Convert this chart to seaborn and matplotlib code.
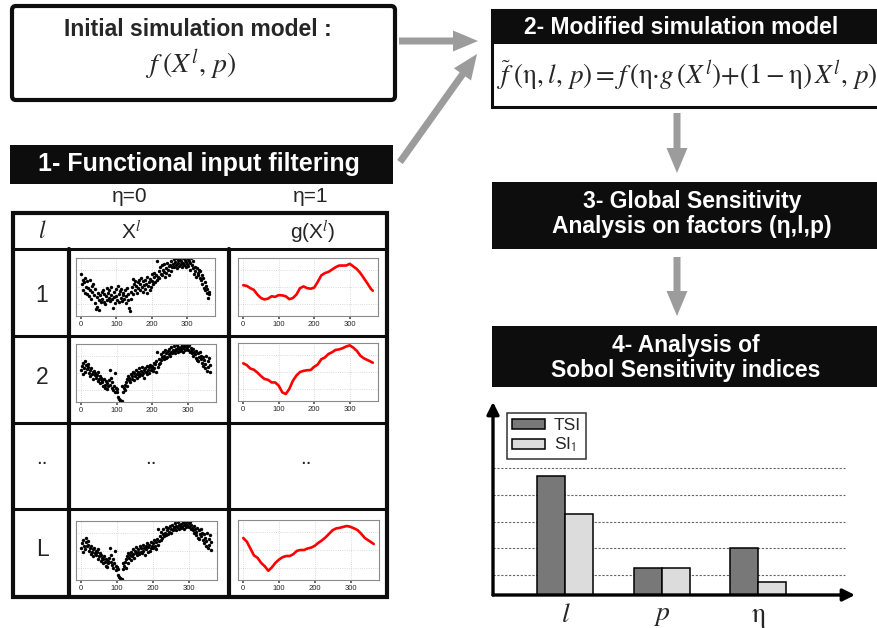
import numpy as np
import pandas as pd
import matplotlib
matplotlib.use("Agg")
import matplotlib.pyplot as plt
from matplotlib import patches
import seaborn as sns

sns.set_theme(style="white")
plt.rcParams["font.family"] = ["Liberation Sans", "DejaVu Sans"]
plt.rcParams["mathtext.fontset"] = "stix"

W, H = 877, 628

# daily input X^l (every second day, 0-100 = panel height)
days = np.arange(0, 365, 2)
x_row1 = [72, 55, 62, 45, 58, 40, 66, 50, 38, 60,
          48, 35, 62, 44, 30, 52, 41, 56, 36, 47,
          22, 12, 33, 15, 40, 28, 11, 36, 25, 42,
          30, 45, 24, 38, 20, 34, 48, 27, 40, 31,
          44, 26, 37, 50, 29, 13, 41, 33, 22, 46,
          35, 28, 52, 38, 24, 43, 31, 47, 26, 36,
          40, 30, 45, 22, 34, 48, 28, 38, 14, 9,
          30, 42, 50, 38, 63, 55, 45, 60, 52, 40,
          58, 48, 62, 44, 55, 66, 50, 42, 60, 53,
          47, 62, 55, 40, 68, 52, 58, 45, 64, 50,
          60, 72, 55, 67, 75, 58, 70, 62, 95, 68,
          78, 65, 84, 72, 88, 70, 80, 76, 90, 68,
          82, 74, 92, 79, 86, 70, 88, 95, 77, 84,
          90, 99, 85, 93, 88, 100, 82, 96, 91, 87,
          97, 89, 94, 85, 100, 92, 88, 96, 84, 93,
          90, 98, 86, 94, 80, 92, 100, 88, 83, 95,
          72, 85, 78, 68, 82, 75, 70, 80, 66, 77,
          62, 70, 55, 65, 48, 58, 44, 52, 40, 47,
          31, 38, 42]
x_row2 = [55, 62, 48, 68, 58, 52, 71, 64, 57, 66,
          60, 50, 55, 44, 58, 48, 52, 40, 54, 46,
          50, 42, 47, 36, 52, 40, 45, 33, 42, 38,
          35, 28, 40, 30, 24, 36, 22, 32, 28, 38,
          55, 30, 42, 25, 35, 20, 28, 50, 17, 24,
          22, 18, 8, 5, 3, 0, 2, 1, 28, 18,
          24, 30, 20, 35, 40, 28, 45, 38, 42, 34,
          48, 40, 44, 52, 38, 50, 45, 56, 42, 48,
          52, 44, 58, 48, 54, 46, 60, 50, 55, 42,
          58, 52, 62, 48, 56, 60, 50, 64, 55, 58,
          62, 54, 68, 58, 65, 52, 70, 87, 60, 66,
          75, 68, 82, 72, 78, 86, 74, 80, 90, 76,
          84, 78, 88, 82, 92, 80, 86, 94, 84, 90,
          88, 96, 85, 92, 90, 98, 86, 94, 91, 88,
          95, 90, 99, 87, 93, 97, 89, 95, 100, 92,
          96, 90, 98, 86, 93, 88, 84, 92, 80, 86,
          82, 76, 88, 72, 84, 70, 78, 86, 74, 80,
          68, 78, 62, 72, 58, 66, 80, 54, 70, 60,
          76, 51, 64]
x_rowL = x_row2

# filtered inputs g(X^l)
g_days = [0, 10, 20, 30, 40, 50, 60, 70, 80, 90, 100, 110, 120, 130, 140, 150, 160, 170, 180,
          190, 200, 210, 220, 230, 240, 250, 260, 270, 280, 290, 300, 310, 320, 330, 340, 350, 360, 365]
g_row1 = [53, 52, 48, 45, 37, 31, 28.5, 30, 34, 33, 36, 35.5, 34, 29, 31, 37, 48, 51, 48,
          47, 49, 59, 70, 74, 76, 80, 84, 87, 87, 87, 90, 85.5, 81, 74, 65, 56, 46.5, 43.6]
g_row2 = [65, 62, 56, 54, 49, 43, 38, 36.5, 32, 32, 26.5, 15, 12, 21, 35, 44, 50, 52, 53,
          53.5, 59, 63, 72, 75, 81, 84, 88, 89, 91, 94, 96, 92, 86.5, 78, 73.5, 70.6, 67.6, 66]
g_rowL = [70, 64, 52.6, 41, 37, 28.6, 23, 15.4, 21, 28.6, 34, 38, 40, 40, 43, 48.6, 50, 50, 52.6,
          54, 57, 62, 66, 71, 77, 83, 86, 87, 88.6, 90, 88.6, 86, 83, 77, 70, 66, 62, 60]

# Sobol indices (in grid units)
factors = ["l", "p", "eta"]
factor_labels = ["$l$", "$p$", "η"]
tsi = [4.45, 1.0, 1.75]
si1 = [3.05, 1.0, 0.5]
grid_levels = [0.75, 1.75, 2.75, 3.75, 4.75]

fig = plt.figure(figsize=(W / 100, H / 100), dpi=100)


def px_axes(left, top, right, bottom):
    return fig.add_axes([left / W, 1 - bottom / H, (right - left) / W, (bottom - top) / H])


ax0 = fig.add_axes([0, 0, 1, 1])
ax0.set_xlim(0, W)
ax0.set_ylim(H, 0)
ax0.axis("off")

black = "#0d0d0d"
arrow_grey = "#9c9c9c"

# box 1 - initial model
ax0.add_patch(patches.FancyBboxPatch((12, 6), 383, 94, boxstyle="round,pad=0,rounding_size=4",
                                     fc="white", ec=black, lw=3))
ax0.text(198, 30, "Initial simulation model :", ha="center", va="center", fontsize=16.5, fontweight="bold")
ax0.text(191, 65, r"$f\;(X^l,\,p)$", ha="center", va="center", fontsize=20)

# functional filtering header
ax0.add_patch(patches.Rectangle((10, 145), 383, 39, fc=black, ec="none"))
ax0.text(199, 164, "1- Functional input filtering", ha="center", va="center", fontsize=18,
         fontweight="bold", color="white")
ax0.text(130, 197, "η=0", ha="center", va="center", fontsize=15)
ax0.text(311, 197, "η=1", ha="center", va="center", fontsize=15)

# table
ax0.add_patch(patches.Rectangle((13, 213), 374, 384, fill=False, ec=black, lw=3))
for yy in [249, 336, 423, 509]:
    ax0.plot([13, 387], [yy, yy], color=black, lw=2.2)
for xx in [69, 229]:
    ax0.plot([xx, xx], [249, 597], color=black, lw=3)
ax0.text(42, 232, "$l$", ha="center", va="center", fontsize=17)
ax0.text(131, 232, "X$^{l}$", ha="center", va="center", fontsize=15)
ax0.text(313, 232, "g(X$^{l}$)", ha="center", va="center", fontsize=15)
ax0.text(42, 295, "1", ha="center", va="center", fontsize=16.5)
ax0.text(42, 377, "2", ha="center", va="center", fontsize=16.5)
ax0.text(42, 550, "L", ha="center", va="center", fontsize=16.5)
for xx in [42, 151, 306]:
    ax0.text(xx, 458, "..", ha="center", va="center", fontsize=15)

# box 2 - modified model
ax0.add_patch(patches.Rectangle((492, 10), 400, 97, fc="white", ec=black, lw=2.2))
ax0.add_patch(patches.Rectangle((492, 10), 400, 34, fc=black, ec="none"))
ax0.text(681, 28, "2- Modified simulation model", ha="center", va="center", fontsize=16.5,
         fontweight="bold", color="white")
ax0.text(497, 76,
         r"$\widetilde{f}\;(\mathrm{\eta},l,\,p){=}f\,(\mathrm{\eta}{\cdot}g\,(X^l){+}(1-\mathrm{\eta})\,X^l,\,p)$",
         ha="left", va="center", fontsize=19.5)

# box 3 and 4
ax0.add_patch(patches.Rectangle((492, 182), 400, 67, fc=black, ec="none"))
ax0.text(692, 214, "3- Global Sensitivity\nAnalysis on factors (η,l,p)", ha="center", va="center",
         fontsize=16.5, fontweight="bold", color="white", linespacing=1.1)
ax0.add_patch(patches.Rectangle((492, 326), 400, 61, fc=black, ec="none"))
ax0.text(686, 358, "4- Analysis of\nSobol Sensitivity indices", ha="center", va="center",
         fontsize=16.5, fontweight="bold", color="white", linespacing=1.1)

# grey arrows
for (x1, y1, x2, y2) in [(399, 41, 478, 41), (400, 162, 477, 54), (677, 113, 677, 173), (677, 257, 677, 316)]:
    ax0.add_patch(patches.FancyArrow(x1, y1, x2 - x1, y2 - y1, width=7, head_width=21, head_length=25,
                                     length_includes_head=True, color=arrow_grey, lw=0))


def small_panel(box, y, kind):
    ax = px_axes(*box)
    if kind == "points":
        sns.scatterplot(x=days, y=y, ax=ax, color="black", s=6, linewidth=0, legend=False)
    else:
        sns.lineplot(x=g_days, y=y, ax=ax, color="red", linewidth=1.9)
    ax.set_xlim(-14.6, 379.6)
    ax.set_ylim(0, 100)
    ax.set_xticks([0, 100, 200, 300])
    ax.set_yticks([20, 50, 80])
    ax.set_yticklabels([])
    ax.grid(True, linestyle=":", color="#cfcfcf", linewidth=0.6)
    ax.tick_params(axis="x", labelsize=5.5, length=2, pad=1.5, color="#555555", bottom=True)
    ax.tick_params(axis="y", length=0)
    for sp in ax.spines.values():
        sp.set_color("#8a8a8a")
        sp.set_linewidth(0.8)
    ax.set_xlabel("")
    ax.set_ylabel("")
    ax.set_facecolor("white")


small_panel((76, 258, 215, 316), x_row1, "points")
small_panel((238, 258, 378, 316), g_row1, "line")
small_panel((76, 344, 216, 402), x_row2, "points")
small_panel((238, 343, 378, 401), g_row2, "line")
small_panel((76, 521, 217, 580), x_rowL, "points")
small_panel((238, 520, 379, 580), g_rowL, "line")

# Sobol bar chart
colors = {"TSI": "#787878", "SI1": "#dcdcdc"}
bar_df = pd.DataFrame({"factor": factors * 2,
                       "index": ["TSI"] * 3 + ["SI1"] * 3,
                       "value": tsi + si1})
axb = px_axes(493, 402, 855, 595)
axb.patch.set_alpha(0)
sns.barplot(data=bar_df, x="factor", y="value", hue="index", palette=colors, width=0.58, gap=0,
            edgecolor="black", linewidth=1.1, ax=axb, zorder=3, legend=False)
axb.hlines(grid_levels, -0.75, 2.9, colors="#666666", linestyles=(0, (2, 1.5)), linewidth=0.8, zorder=1)
axb.set_xlim(-0.75, 3.0)
axb.set_ylim(0, 7.24)
axb.set_xticks([0, 1, 2])
axb.set_xticklabels(factor_labels)
for lab in axb.get_xticklabels():
    lab.set_fontfamily("STIXGeneral")
    lab.set_fontsize(20)
axb.tick_params(axis="x", length=0, pad=6)
axb.set_yticks([])
axb.set_xlabel("")
axb.set_ylabel("")
for sp in axb.spines.values():
    sp.set_visible(False)
for end in [(0, 1), (1, 0)]:
    axb.annotate("", xy=end, xytext=(0, 0), xycoords="axes fraction",
                 arrowprops=dict(arrowstyle="-|>", lw=2.4, color="black", mutation_scale=18,
                                 shrinkA=0, shrinkB=0))
handles = [patches.Patch(facecolor=colors["TSI"], edgecolor="black", linewidth=1.1),
           patches.Patch(facecolor=colors["SI1"], edgecolor="black", linewidth=1.1)]
leg = axb.legend(handles, ["TSI", r"SI$_\mathsf{1}$"], loc="upper left", bbox_to_anchor=(0.039, 0.943),
                 frameon=True, fancybox=False, edgecolor="black", fontsize=12.5, handlelength=1.9,
                 handleheight=0.5, borderpad=0.3, labelspacing=0.15, handletextpad=0.5, borderaxespad=0)
leg.get_frame().set_linewidth(1.1)

fig.savefig("out.png", dpi=100)
